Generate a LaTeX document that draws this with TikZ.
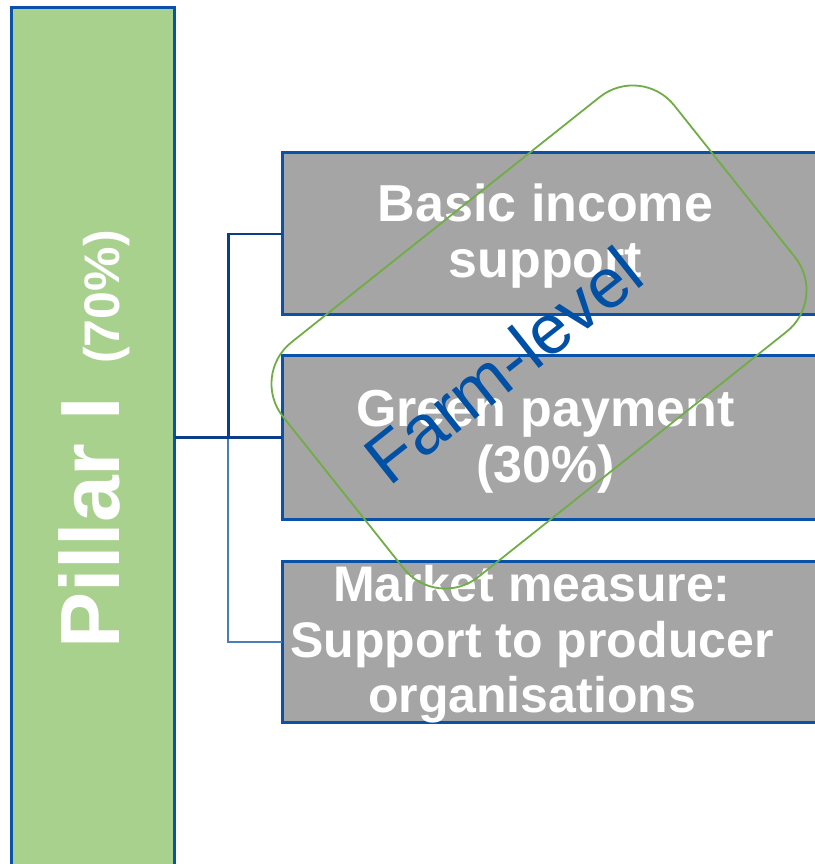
\documentclass[tikz,border=0pt]{standalone}
\usepackage{fontspec}
\setmainfont{Liberation Sans}
\definecolor{pillargreen}{HTML}{A9D18E}
\definecolor{edgeblue}{HTML}{0A52A8}
\definecolor{boxgrey}{HTML}{A5A5A5}
\definecolor{darkline}{HTML}{0B3D8A}
\definecolor{lightline}{HTML}{4A7EB5}
\definecolor{framegreen}{HTML}{70AD47}
\definecolor{farmblue}{HTML}{0050A5}
\tikzset{
  pillarbox/.style={draw=edgeblue, line width=3pt, fill=pillargreen, inner sep=0pt, outer sep=0pt, anchor=north west},
  greybox/.style={draw=edgeblue, line width=3pt, fill=boxgrey, inner sep=0pt, outer sep=0pt, anchor=north west, minimum width=560pt},
  boxtext/.style={text=white, font=\bfseries\fontsize{52}{55.5}\selectfont, align=center, inner sep=0pt},
  darkconn/.style={draw=darkline, line width=2.5pt},
  lightconn/.style={draw=lightline, line width=2pt},
}
\begin{document}
\begin{tikzpicture}[x=1pt,y=-1pt]
\useasboundingbox (0,0) rectangle (814,864);
% pillar
\node[pillarbox, minimum width=163pt, minimum height=880pt] (pillar) at (11.5,8) {};
\node[rotate=90, anchor=base west, inner sep=0pt, text=white, font=\bfseries] (pillartext) at (119,649)
  {{\fontsize{84}{84}\selectfont Pillar I}\hspace{33pt}{\fontsize{50}{50}\selectfont (70\%)}};
% boxes
\node[greybox, minimum height=162pt] (b1) at (282.3,152.8) {};
\node[greybox, minimum height=163.5pt] (b2) at (282.3,355.8) {};
\node[greybox, minimum height=161.5pt] (b3) at (282.3,561) {};
\node[boxtext] (t1) at (545.5,236) {Basic income\\support};
\node[boxtext] (t2) at (545.5,441.5) {Green payment\\(30\%)};
\node[boxtext, font=\bfseries\fontsize{50}{55.5}\selectfont] (t3) at (532,644.5) {Market measure:\\Support to producer\\organisations};
% connectors
\coordinate (hub) at ([xshift=-54pt]b2.west);
\draw[lightconn] (hub) |- (b3.west);
\draw[darkconn] (pillar.east |- hub) -- (hub) |- (b1.west);
\draw[darkconn] (hub) -- (b2.west);
% farm-level frame
\node[draw=framegreen, line width=1.8pt, rounded corners=53pt, rotate=38.5, minimum width=500pt, minimum height=300pt, inner sep=0pt] (frame) at (539,337) {};
\node[rotate=38.4, anchor=base, inner sep=0pt, text=farmblue, font=\fontsize{70}{70}\selectfont] (farm) at (518.6,384.8) {Farm-level};
\end{tikzpicture}
\end{document}
